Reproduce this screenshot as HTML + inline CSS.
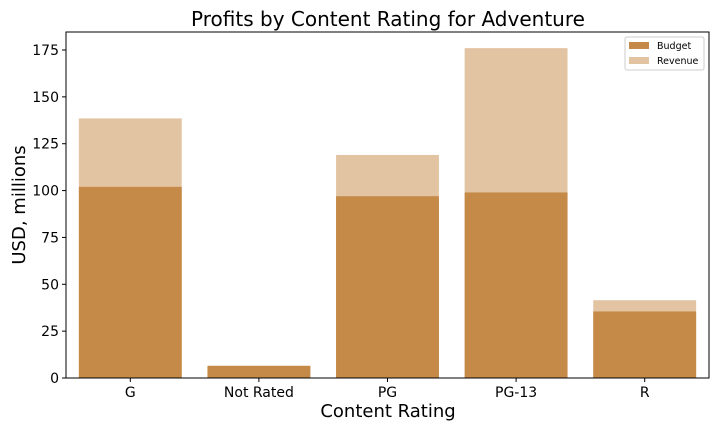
<!DOCTYPE html>
<html><head><meta charset="utf-8"><style>
body{margin:0;background:#fff;width:720px;height:432px;overflow:hidden}
svg text{font-family:"DejaVu Sans","Liberation Sans",sans-serif}
</style></head><body>
<svg id="chart" width="720" height="432" xmlns="http://www.w3.org/2000/svg">
<text x="388" y="26" font-size="20" text-anchor="middle" fill="#000">Profits by Content Rating for Adventure</text>
<g id="bars"></g>
<g id="axes"></g>
<text x="388" y="417" font-size="18" text-anchor="middle">Content Rating</text>
<text transform="translate(25,205) rotate(-90)" font-size="18" text-anchor="middle">USD, millions</text>
<g>
<rect x="625" y="37" width="79" height="33" fill="#fff" stroke="#ccc" rx="2"/>
<rect x="629" y="42" width="20" height="7" fill="#c58a47"/>
<text x="657" y="49" font-size="9.5">Budget</text>
<rect x="629" y="57" width="20" height="7" fill="#e2c4a2"/>
<text x="657" y="64" font-size="9.5">Revenue</text>
</g>
</svg>
<script>
const categories=["G","Not Rated","PG","PG-13","R"];
const budget=[102,6.5,97,99,35.5];
const revenue=[138.5,6.5,119,176,41.5];
const yTicks=[0,25,50,75,100,125,150,175];
const L=66,R=709,T=32,B=378;
const y=v=>B-(v/175)*(B-50);
const bw=(R-L)/categories.length;
const x=i=>L+bw*i+bw/2;
const ns="http://www.w3.org/2000/svg";
const bars=document.getElementById('bars'),axes=document.getElementById('axes');
function mk(p,tag,a){const e=document.createElementNS(ns,tag);for(const k in a)e.setAttribute(k,a[k]);p.appendChild(e);return e;}
categories.forEach((c,i)=>{
 const r=mk(bars,'rect',{x:x(i)-bw*0.4,y:y(revenue[i]),width:bw*0.8,height:B-y(revenue[i]),fill:'#e2c4a2'});
 
 
 const b=mk(bars,'rect',{x:x(i)-bw*0.4,y:y(budget[i]),width:bw*0.8,height:B-y(budget[i]),fill:'#c58a47'});
 
 
 mk(axes,'line',{x1:x(i),x2:x(i),y1:B,y2:B+4,stroke:'#000'});
 const t=mk(axes,'text',{x:x(i),y:B+19,'font-size':14,'text-anchor':'middle'});t.textContent=c;
 
 
});
yTicks.forEach(v=>{
 mk(axes,'line',{x1:L-4,x2:L,y1:y(v),y2:y(v),stroke:'#000'});
 const t=mk(axes,'text',{x:L-7,y:y(v)+5,'font-size':14,'text-anchor':'end'});t.textContent=v;
 
 
});
mk(axes,'rect',{x:L,y:T,width:R-L,height:B-T,fill:'none',stroke:'#000','stroke-width':1});
</script>
</body></html>
